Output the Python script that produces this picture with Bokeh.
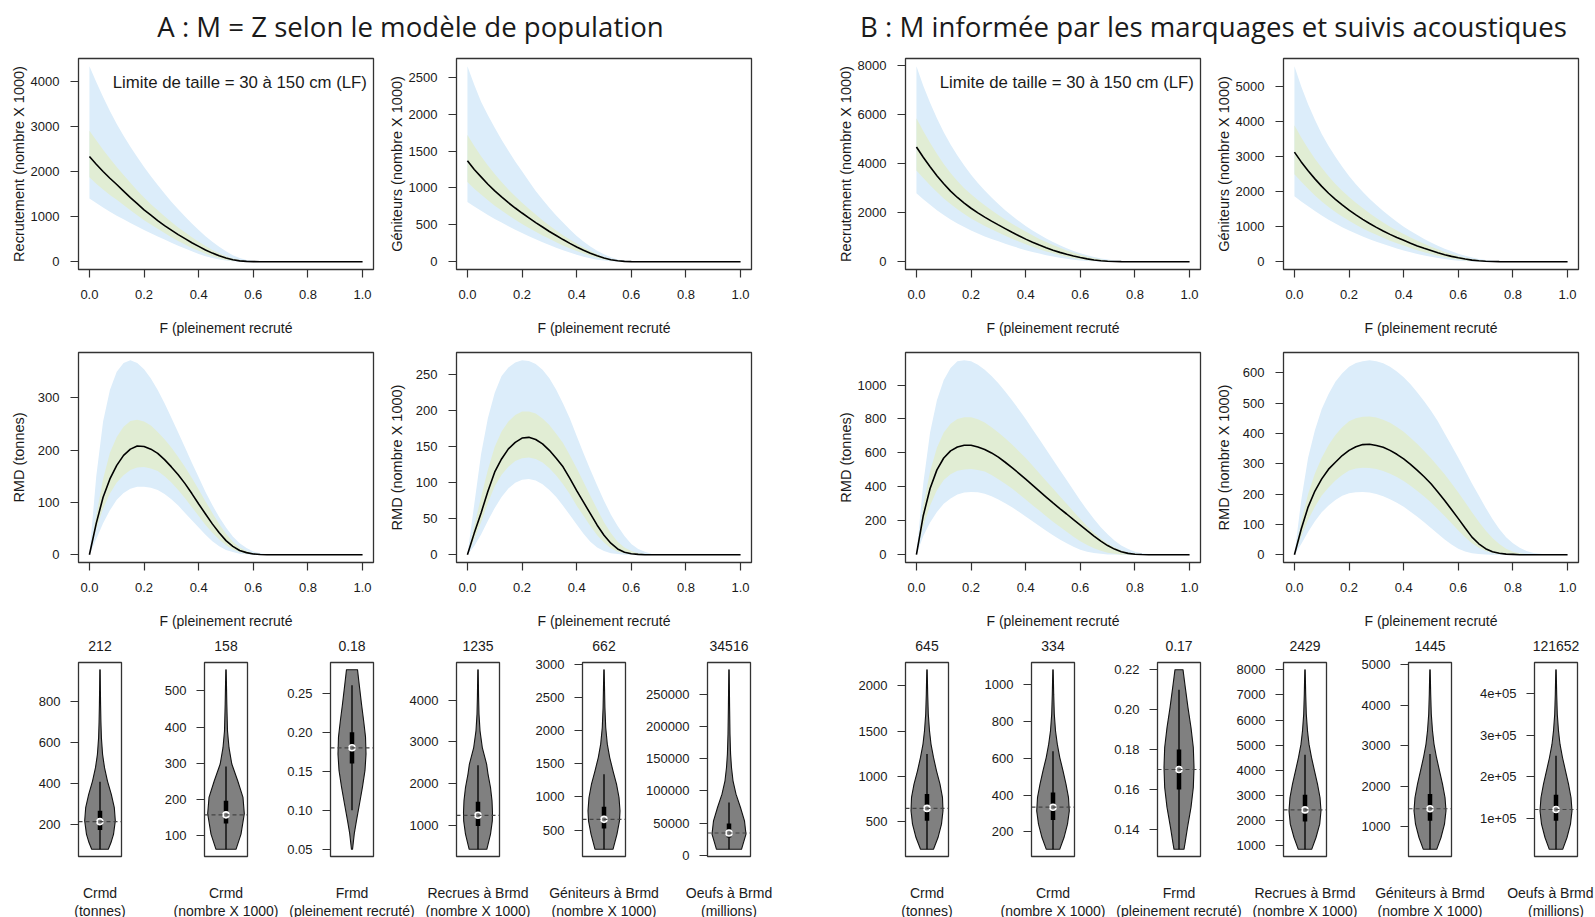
from bokeh.plotting import figure
from bokeh.layouts import row, column
from bokeh.models import Range1d, FixedTicker, NumeralTickFormatter, Span
from bokeh.core.properties import value
from bokeh.embed import file_html
from bokeh.resources import INLINE

# ---------------- data : curves (F grid every 0.025) ----------------
F = [0.0, 0.025, 0.05, 0.075, 0.1, 0.125, 0.15, 0.175, 0.2, 0.225,
     0.25, 0.275, 0.3, 0.325, 0.35, 0.375, 0.4, 0.425, 0.45, 0.475,
     0.5, 0.525, 0.55, 0.575, 0.6, 0.625, 0.65, 0.675, 0.7, 0.725,
     0.75, 0.775, 0.8, 0.825, 0.85, 0.875, 0.9, 0.925, 0.95, 0.975,
     1.0]
x_ticks = [0.0, 0.2, 0.4, 0.6, 0.8, 1.0]

A1_med = [2330, 2160, 2000, 1850, 1710, 1565, 1420, 1285, 1150, 1030,
          910, 800, 700, 600, 510, 420, 340, 260, 190, 130,
          80, 42, 18, 6, 1, 0, 0, 0, 0, 0,
          0, 0, 0, 0, 0, 0, 0, 0, 0, 0,
          0]
A1_g_hi = [2900, 2690, 2480, 2285, 2100, 1920, 1750, 1580, 1420, 1275,
           1140, 1005, 880, 760, 650, 540, 440, 345, 260, 185,
           120, 70, 35, 14, 5, 1, 0, 0, 0, 0,
           0, 0, 0, 0, 0, 0, 0, 0, 0, 0,
           0]
A1_g_lo = [1870, 1730, 1600, 1480, 1370, 1255, 1140, 1030, 920, 825,
           730, 635, 540, 460, 380, 305, 240, 175, 120, 75,
           40, 18, 8, 2, 0, 0, 0, 0, 0, 0,
           0, 0, 0, 0, 0, 0, 0, 0, 0, 0,
           0]
A1_b_hi = [4330, 3980, 3650, 3340, 3050, 2790, 2550, 2320, 2100, 1895,
           1700, 1510, 1330, 1160, 1000, 845, 700, 565, 440, 330,
           230, 145, 80, 38, 15, 5, 1, 0, 0, 0,
           0, 0, 0, 0, 0, 0, 0, 0, 0, 0,
           0]
A1_b_lo = [1400, 1300, 1200, 1105, 1020, 940, 860, 780, 700, 630,
           560, 490, 420, 355, 290, 230, 170, 122, 80, 48,
           25, 10, 3, 1, 0, 0, 0, 0, 0, 0,
           0, 0, 0, 0, 0, 0, 0, 0, 0, 0,
           0]

A2_med = [1369, 1250, 1150, 1050, 960, 878, 800, 728, 660, 595,
          530, 470, 410, 355, 300, 248, 200, 155, 115, 80,
          50, 27, 12, 4, 1, 0, 0, 0, 0, 0,
          0, 0, 0, 0, 0, 0, 0, 0, 0, 0,
          0]
A2_g_hi = [1720, 1570, 1430, 1305, 1190, 1082, 980, 888, 800, 718,
           640, 563, 490, 423, 360, 300, 245, 193, 145, 102,
           65, 37, 18, 7, 2, 0, 0, 0, 0, 0,
           0, 0, 0, 0, 0, 0, 0, 0, 0, 0,
           0]
A2_g_lo = [1080, 990, 910, 832, 760, 693, 630, 568, 510, 456,
           405, 356, 310, 264, 220, 180, 145, 110, 80, 53,
           30, 15, 5, 1, 0, 0, 0, 0, 0, 0,
           0, 0, 0, 0, 0, 0, 0, 0, 0, 0,
           0]
A2_b_hi = [2650, 2400, 2170, 1985, 1815, 1655, 1505, 1360, 1225, 1090,
           960, 842, 730, 627, 530, 437, 350, 273, 205, 147,
           100, 60, 30, 13, 5, 1, 0, 0, 0, 0,
           0, 0, 0, 0, 0, 0, 0, 0, 0, 0,
           0]
A2_b_lo = [810, 750, 690, 633, 580, 530, 480, 433, 390, 346,
           305, 264, 225, 190, 155, 123, 95, 68, 45, 27,
           15, 6, 2, 0, 0, 0, 0, 0, 0, 0,
           0, 0, 0, 0, 0, 0, 0, 0, 0, 0,
           0]

A3_med = [0, 60, 110, 145, 171, 190, 202, 208, 207, 202,
          194, 182, 168, 153, 136, 117, 97, 78, 59, 42,
          27, 16, 8, 4, 1.5, 0.5, 0, 0, 0, 0,
          0, 0, 0, 0, 0, 0, 0, 0, 0, 0,
          0]
A3_g_hi = [0, 75, 145, 195, 225, 245, 256, 258, 255, 247,
           235, 221, 205, 187, 168, 147, 125, 102, 80, 59,
           40, 25, 14, 7, 3, 1, 0, 0, 0, 0,
           0, 0, 0, 0, 0, 0, 0, 0, 0, 0,
           0]
A3_g_lo = [0, 50, 88, 117, 138, 152, 162, 167, 168, 165,
           160, 150, 138, 124, 108, 91, 74, 57, 42, 29,
           18, 10, 5, 2, 1, 0, 0, 0, 0, 0,
           0, 0, 0, 0, 0, 0, 0, 0, 0, 0,
           0]
A3_b_hi = [0, 150, 255, 315, 350, 367, 372, 367, 355, 337,
           315, 290, 262, 234, 205, 176, 148, 120, 95, 72,
           52, 35, 22, 13, 6, 3, 1, 0, 0, 0,
           0, 0, 0, 0, 0, 0, 0, 0, 0, 0,
           0]
A3_b_lo = [0, 30, 60, 85, 105, 118, 126, 130, 130, 128,
           124, 116, 106, 94, 80, 66, 52, 38, 26, 16,
           9, 5, 2, 1, 0, 0, 0, 0, 0, 0,
           0, 0, 0, 0, 0, 0, 0, 0, 0, 0,
           0]

A4_med = [0, 30, 58, 88, 115, 133, 147, 156, 162, 163,
          160, 154, 145, 134, 122, 106, 89, 73, 57, 41,
          27, 16, 8, 3.5, 1.4, 0.5, 0, 0, 0, 0,
          0, 0, 0, 0, 0, 0, 0, 0, 0, 0,
          0]
A4_g_hi = [0, 40, 80, 118, 150, 171, 185, 194, 199, 199,
           196, 189, 180, 168, 155, 138, 120, 101, 82, 63,
           45, 30, 18, 10, 5, 2, 1, 0, 0, 0,
           0, 0, 0, 0, 0, 0, 0, 0, 0, 0,
           0]
A4_g_lo = [0, 22, 45, 72, 95, 111, 122, 130, 134, 135,
           133, 128, 120, 110, 98, 84, 68, 54, 40, 27,
           17, 9, 4, 2, 1, 0, 0, 0, 0, 0,
           0, 0, 0, 0, 0, 0, 0, 0, 0, 0,
           0]
A4_b_hi = [0, 70, 140, 190, 225, 248, 260, 267, 270, 269,
           265, 257, 245, 229, 210, 189, 165, 141, 118, 96,
           75, 56, 40, 26, 15, 8, 4, 1, 0, 0,
           0, 0, 0, 0, 0, 0, 0, 0, 0, 0,
           0]
A4_b_lo = [0, 12, 28, 47, 65, 80, 92, 100, 104, 105,
           103, 98, 90, 80, 68, 55, 42, 29, 18, 10,
           5, 2, 1, 0, 0, 0, 0, 0, 0, 0,
           0, 0, 0, 0, 0, 0, 0, 0, 0, 0,
           0]

B1_med = [4680, 4260, 3870, 3510, 3180, 2880, 2620, 2390, 2180, 1990,
          1820, 1655, 1500, 1350, 1200, 1058, 920, 795, 680, 572,
          470, 380, 300, 230, 170, 115, 70, 38, 15, 6,
          2, 0, 0, 0, 0, 0, 0, 0, 0, 0,
          0]
B1_g_hi = [5850, 5330, 4850, 4400, 3990, 3620, 3290, 3000, 2750, 2520,
           2300, 2095, 1900, 1720, 1550, 1385, 1230, 1078, 930, 800,
           680, 565, 460, 365, 280, 205, 140, 90, 50, 25,
           12, 5, 2, 0, 0, 0, 0, 0, 0, 0,
           0]
B1_g_lo = [3720, 3410, 3120, 2840, 2580, 2350, 2140, 1945, 1760, 1605,
           1460, 1320, 1190, 1060, 940, 822, 710, 606, 510, 420,
           340, 265, 200, 145, 100, 62, 35, 18, 8, 3,
           0, 0, 0, 0, 0, 0, 0, 0, 0, 0,
           0]
B1_b_hi = [7970, 7180, 6480, 5850, 5280, 4780, 4330, 3920, 3550, 3210,
           2900, 2615, 2350, 2100, 1870, 1655, 1460, 1275, 1105, 950,
           805, 670, 545, 435, 340, 260, 190, 132, 85, 52,
           30, 16, 8, 3, 1, 0, 0, 0, 0, 0,
           0]
B1_b_lo = [2790, 2545, 2320, 2100, 1900, 1720, 1560, 1410, 1270, 1145,
           1030, 925, 830, 735, 640, 553, 470, 397, 330, 267,
           210, 160, 115, 80, 50, 28, 15, 6, 2, 0,
           0, 0, 0, 0, 0, 0, 0, 0, 0, 0,
           0]

B2_med = [3130, 2850, 2600, 2365, 2150, 1955, 1780, 1620, 1470, 1335,
          1210, 1090, 980, 878, 780, 692, 610, 528, 450, 383,
          320, 258, 200, 152, 110, 75, 45, 25, 12, 5,
          1, 0, 0, 0, 0, 0, 0, 0, 0, 0,
          0]
B2_g_hi = [3900, 3550, 3230, 2940, 2680, 2440, 2220, 2025, 1850, 1685,
           1530, 1385, 1250, 1122, 1000, 890, 790, 692, 600, 512,
           430, 352, 280, 217, 160, 113, 75, 46, 25, 12,
           5, 1, 0, 0, 0, 0, 0, 0, 0, 0,
           0]
B2_g_lo = [2500, 2280, 2080, 1892, 1720, 1562, 1420, 1290, 1170, 1055,
           950, 857, 770, 683, 600, 527, 460, 393, 330, 273,
           220, 172, 130, 93, 60, 36, 20, 10, 4, 1,
           0, 0, 0, 0, 0, 0, 0, 0, 0, 0,
           0]
B2_b_hi = [5580, 5000, 4500, 4055, 3650, 3305, 3000, 2715, 2450, 2215,
           2000, 1800, 1620, 1450, 1290, 1140, 1000, 875, 760, 650,
           550, 455, 370, 295, 230, 170, 120, 80, 50, 28,
           15, 7, 3, 1, 0, 0, 0, 0, 0, 0,
           0]
B2_b_lo = [1870, 1720, 1580, 1445, 1320, 1200, 1090, 987, 890, 803,
           720, 643, 570, 503, 440, 378, 320, 268, 220, 177,
           140, 105, 75, 50, 30, 17, 8, 3, 1, 0,
           0, 0, 0, 0, 0, 0, 0, 0, 0, 0,
           0]

B3_med = [0, 230, 390, 500, 570, 612, 635, 645, 645, 635,
          620, 600, 575, 545, 513, 480, 445, 410, 375, 340,
          305, 272, 240, 207, 175, 142, 110, 80, 54, 33,
          18, 8, 3, 1, 0, 0, 0, 0, 0, 0,
          0]
B3_g_hi = [0, 290, 490, 630, 720, 772, 800, 810, 810, 798,
           780, 752, 720, 686, 650, 610, 570, 526, 480, 435,
           390, 345, 300, 255, 210, 168, 130, 95, 65, 42,
           25, 13, 7, 3, 1, 0, 0, 0, 0, 0,
           0]
B3_g_lo = [0, 170, 290, 380, 440, 475, 495, 503, 505, 500,
           490, 470, 445, 418, 390, 358, 325, 292, 260, 227,
           195, 165, 135, 106, 80, 57, 38, 23, 12, 6,
           2, 1, 0, 0, 0, 0, 0, 0, 0, 0,
           0]
B3_b_hi = [0, 420, 720, 910, 1030, 1100, 1140, 1146, 1140, 1120,
           1090, 1053, 1010, 962, 910, 856, 800, 740, 680, 620,
           560, 500, 440, 380, 320, 263, 210, 162, 120, 84,
           55, 33, 18, 9, 4, 1, 0, 0, 0, 0,
           0]
B3_b_lo = [0, 110, 190, 252, 300, 332, 355, 366, 370, 368,
           360, 345, 325, 303, 280, 253, 225, 197, 170, 142,
           115, 90, 68, 47, 30, 18, 10, 5, 2, 1,
           0, 0, 0, 0, 0, 0, 0, 0, 0, 0,
           0]

B4_med = [0, 85, 157, 210, 250, 282, 305, 327, 344, 356,
          363, 364, 360, 354, 344, 331, 316, 298, 278, 257,
          234, 207, 179, 149, 119, 88, 58, 36, 20, 10,
          5, 2, 1, 0, 0, 0, 0, 0, 0, 0,
          0]
B4_g_hi = [0, 110, 200, 268, 320, 362, 395, 420, 440, 450,
           455, 456, 452, 445, 435, 421, 405, 386, 365, 342,
           318, 292, 265, 236, 205, 173, 140, 109, 80, 55,
           35, 20, 10, 5, 2, 1, 0, 0, 0, 0,
           0]
B4_g_lo = [0, 60, 115, 158, 195, 222, 245, 263, 278, 284,
           287, 286, 283, 276, 267, 256, 243, 227, 210, 192,
           172, 150, 128, 104, 80, 58, 38, 23, 12, 6,
           2, 1, 0, 0, 0, 0, 0, 0, 0, 0,
           0]
B4_b_hi = [0, 180, 320, 410, 480, 530, 570, 598, 620, 632,
           638, 641, 638, 631, 620, 604, 585, 562, 535, 506,
           475, 440, 400, 360, 320, 278, 235, 195, 155, 118,
           85, 58, 38, 23, 12, 6, 3, 1, 0, 0,
           0]
B4_b_lo = [0, 35, 75, 110, 140, 162, 180, 194, 203, 206,
           207, 205, 200, 193, 183, 171, 158, 142, 125, 107,
           88, 69, 50, 34, 20, 11, 5, 2, 1, 0,
           0, 0, 0, 0, 0, 0, 0, 0, 0, 0,
           0]

A1_yticks = [0, 1000, 2000, 3000, 4000]
A2_yticks = [0, 500, 1000, 1500, 2000, 2500]
A3_yticks = [0, 100, 200, 300]
A4_yticks = [0, 50, 100, 150, 200, 250]
B1_yticks = [0, 2000, 4000, 6000, 8000]
B2_yticks = [0, 1000, 2000, 3000, 4000, 5000]
B3_yticks = [0, 200, 400, 600, 800, 1000]
B4_yticks = [0, 100, 200, 300, 400, 500, 600]

ylab_recr = "Recrutement (nombre X 1000)"
ylab_geni = "Géniteurs (nombre X 1000)"
ylab_rmd_t = "RMD (tonnes)"
ylab_rmd_n = "RMD (nombre X 1000)"
xlab = "F (pleinement recruté"
legend_text = "Limite de taille = 30 à 150 cm (LF)"
title_A = "A : M = Z selon le modèle de population"
title_B = "B : M informée par les marquages et suivis acoustiques"

# ---------------- data : violins ----------------
# levels (value axis) and half-widths (in x units) of each violin outline
vA_levels = [
    [77, 110, 150, 216, 280, 345, 410, 475, 540, 620, 700, 780, 860, 953],
    [63, 105, 161, 206, 252, 298, 343, 389, 463, 558],
    [0.05, 0.07, 0.087, 0.108, 0.13, 0.151, 0.172, 0.194, 0.215, 0.236, 0.258, 0.28],
    [419, 784, 1103, 1302, 1583, 1902, 2224, 2464, 2862, 3263, 3664, 4063, 4730],
    [211, 440, 640, 790, 991, 1193, 1393, 1593, 1795, 2045, 2346, 2648, 2916],
    [9044, 32750, 53500, 74200, 95100, 115900, 136600, 157500, 188700, 230200, 289140],
]
vA_width = [
    [0.193, 0.256, 0.314, 0.356, 0.333, 0.263, 0.174, 0.105, 0.06, 0.033, 0.021, 0.014, 0.009, 0.005],
    [0.233, 0.349, 0.426, 0.395, 0.272, 0.135, 0.07, 0.035, 0.019, 0.005],
    [0.012, 0.053, 0.105, 0.174, 0.244, 0.302, 0.326, 0.314, 0.27, 0.221, 0.174, 0.128],
    [0.205, 0.291, 0.333, 0.337, 0.326, 0.291, 0.233, 0.2, 0.1, 0.047, 0.023, 0.014, 0.005],
    [0.209, 0.302, 0.36, 0.372, 0.349, 0.291, 0.209, 0.133, 0.077, 0.04, 0.021, 0.012, 0.005],
    [0.291, 0.395, 0.36, 0.267, 0.163, 0.093, 0.058, 0.037, 0.023, 0.014, 0.005],
]
# q1, median, q3, lower whisker, upper whisker
vA_stats = [
    [171, 212, 265, 77, 406],
    [134, 158, 197, 63, 291],
    [0.16, 0.18, 0.20, 0.10, 0.26],
    [976, 1235, 1559, 419, 2434],
    [524, 662, 851, 211, 1341],
    [27440, 34516, 49280, 9044, 82040],
]
vA_values = ["212", "158", "0.18", "1235", "662", "34516"]
vA_yticks = [
    [200, 400, 600, 800],
    [100, 200, 300, 400, 500],
    [0.05, 0.10, 0.15, 0.20, 0.25],
    [1000, 2000, 3000, 4000],
    [500, 1000, 1500, 2000, 2500, 3000],
    [0, 50000, 100000, 150000, 200000, 250000],
]

vB_levels = [
    [193, 323, 471, 619, 766, 914, 1061, 1208, 1356, 1503, 1687, 1908, 2178],
    [105, 169, 242, 314, 387, 460, 532, 604, 677, 750, 841, 949, 1082],
    [0.13, 0.134, 0.141, 0.151, 0.161, 0.171, 0.181, 0.191, 0.201, 0.211, 0.22],
    [861, 1330, 1862, 2392, 2922, 3452, 3983, 4513, 5043, 5574, 6237, 7032, 8004],
    [444, 736, 1067, 1395, 1723, 2054, 2383, 2711, 3042, 3370, 3783, 4277, 4879],
    [26080, 54400, 86560, 118500, 150400, 182400, 214400, 246400, 278300, 310300, 350300, 398300, 457120],
]
vB_width = [
    [0.151, 0.256, 0.337, 0.372, 0.36, 0.302, 0.221, 0.151, 0.093, 0.058, 0.03, 0.016, 0.005],
    [0.156, 0.256, 0.337, 0.379, 0.36, 0.302, 0.233, 0.158, 0.1, 0.058, 0.03, 0.016, 0.005],
    [0.116, 0.147, 0.198, 0.279, 0.333, 0.349, 0.333, 0.279, 0.209, 0.147, 0.093],
    [0.156, 0.256, 0.342, 0.372, 0.349, 0.291, 0.221, 0.151, 0.093, 0.058, 0.03, 0.016, 0.005],
    [0.156, 0.256, 0.337, 0.372, 0.349, 0.291, 0.221, 0.151, 0.093, 0.058, 0.03, 0.016, 0.005],
    [0.156, 0.256, 0.337, 0.372, 0.349, 0.291, 0.221, 0.151, 0.093, 0.058, 0.03, 0.016, 0.005],
]
vB_stats = [
    [508, 645, 803, 193, 1245],
    [264, 334, 414, 105, 639],
    [0.16, 0.17, 0.18, 0.13, 0.21],
    [1966, 2429, 3028, 861, 4621],
    [1148, 1445, 1807, 444, 2796],
    [94480, 121652, 156900, 26080, 250500],
]
vB_values = ["645", "334", "0.17", "2429", "1445", "121652"]
vB_yticks = [
    [500, 1000, 1500, 2000],
    [200, 400, 600, 800, 1000],
    [0.14, 0.16, 0.18, 0.20, 0.22],
    [1000, 2000, 3000, 4000, 5000, 6000, 7000, 8000],
    [1000, 2000, 3000, 4000, 5000],
    [100000, 200000, 300000, 400000],
]
vB6_tick_labels = {100000: "1e+05", 200000: "2e+05", 300000: "3e+05", 400000: "4e+05"}

v_names = ["Crmd", "Crmd", "Frmd", "Recrues à Brmd", "Géniteurs à Brmd", "Oeufs à Brmd"]
v_units = ["(tonnes)", "(nombre X 1000)", "(pleinement recruté)", "(nombre X 1000)",
           "(nombre X 1000)", "(millions)"]

# ---------------- style & layout constants ----------------
FONT = "Liberation Sans"
TFONT = "Open Sans"
TXT = "#1a1a1a"
BOX = "#333333"
BLUE = "#DCEDFA"
GREEN = "#E1EDD4"
VGREY = "#808080"

W = 1595
FW = 295                      # frame width of curve plots
CURVE_LEFT = [78, 456, 905, 1283]
CURVE_BOUND = [0, 385, 790, 1210, 1595]
VW = 43
VIO_LEFT = [78, 204, 330, 456, 582, 707, 905, 1031, 1157, 1283, 1408, 1534]
PANEL_SPLIT = 790

H_TITLE = 44
R1_TOP, R1_FH, R1_BOT = 14, 211, 71
R2_TOP, R2_FH, R2_BOT = 12, 210, 70
H_VAL = 20
V_TOP, V_FH, V_BOT = 10, 194, 6
H_LAB = 55


def style_axis(ax, ticks, fmt):
    ax.ticker = FixedTicker(ticks=ticks)
    ax.formatter = fmt
    ax.axis_line_color = None
    ax.major_tick_in = 0
    ax.major_tick_out = 8
    ax.major_tick_line_color = BOX
    ax.major_tick_line_width = 1.2
    ax.minor_tick_line_color = None
    ax.major_label_text_font = FONT
    ax.major_label_text_font_size = "13px"
    ax.major_label_text_color = TXT
    ax.major_label_standoff = 10
    ax.axis_label_text_font = FONT
    ax.axis_label_text_font_size = "14px"
    ax.axis_label_text_font_style = "normal"
    ax.axis_label_text_color = TXT


def base_fig(w, h, xr, yr, ml, mr, mt, mb, **kw):
    p = figure(width=w, height=h, x_range=xr, y_range=yr, output_backend="svg",
               toolbar_location=None, min_border_left=ml, min_border_right=mr,
               min_border_top=mt, min_border_bottom=mb, **kw)
    p.grid.visible = False
    p.outline_line_color = BOX
    p.outline_line_width = 1.3
    p.background_fill_color = "white"
    p.border_fill_color = "white"
    return p


def strip(w, h):
    p = figure(width=w, height=h, x_range=Range1d(0, w), y_range=Range1d(0, h),
               output_backend="svg", toolbar_location=None, min_border=0,
               x_axis_location=None, y_axis_location=None)
    p.grid.visible = False
    p.outline_line_color = None
    p.background_fill_color = "white"
    p.border_fill_color = "white"
    return p


def curve_plot(i, mt, fh, mb, b_lo, b_hi, g_lo, g_hi, med, yticks, ylabel, legend=None):
    ml = CURVE_LEFT[i] - CURVE_BOUND[i]
    mr = CURVE_BOUND[i + 1] - (CURVE_LEFT[i] + FW)
    top = max(b_hi)
    p = base_fig(ml + FW + mr, mt + fh + mb, Range1d(-0.04, 1.04),
                 Range1d(-0.04 * top, 1.04 * top), ml, mr, mt, mb)
    p.varea(x=F, y1=b_lo, y2=b_hi, fill_color=BLUE)
    p.varea(x=F, y1=g_lo, y2=g_hi, fill_color=GREEN)
    p.line(x=F, y=med, line_color="black", line_width=1.6)
    style_axis(p.xaxis[0], x_ticks, NumeralTickFormatter(format="0.0"))
    style_axis(p.yaxis[0], yticks, NumeralTickFormatter(format="0"))
    p.xaxis.axis_label = xlab
    p.xaxis.major_label_standoff = 12
    p.xaxis.axis_label_standoff = 18
    p.yaxis.major_label_standoff = 11
    p.yaxis.axis_label = ylabel
    p.yaxis.axis_label_text_font_size = "14.5px"
    maxlen = max(len(str(t)) for t in yticks)
    p.yaxis.axis_label_standoff = int(round(1 + (4 - maxlen) * 7.2))
    if legend:
        yr0, yr1 = -0.04 * top, 1.04 * top
        p.text(x=[1.016], y=[yr1 - 0.114 * (yr1 - yr0)], text=[legend],
               text_font=value(FONT), text_font_size=value("16.8px"),
               text_color=TXT, text_align="right", text_baseline="middle")
    return p


def violin_plot(k, levels, hw, stats, yticks, fmt, overrides=None):
    left = VIO_LEFT[k]
    if k == 0:
        b0 = 0
    elif k == 6:
        b0 = PANEL_SPLIT
    else:
        b0 = left - 70
    if k == len(VIO_LEFT) - 1:
        b1 = W
    elif k == 5:
        b1 = PANEL_SPLIT
    else:
        b1 = VIO_LEFT[k + 1] - 70
    ml = left - b0
    mr = b1 - (left + VW)
    lo, hi = levels[0], levels[-1]
    d = hi - lo
    p = base_fig(ml + VW + mr, V_TOP + V_FH + V_BOT, Range1d(0.5, 1.5),
                 Range1d(lo - 0.04 * d, hi + 0.04 * d), ml, mr, V_TOP, V_BOT,
                 x_axis_location=None)
    xs = [1 - w for w in hw] + [1 + w for w in reversed(hw)]
    ys = list(levels) + list(reversed(levels))
    p.patch(xs, ys, fill_color=VGREY, line_color="#111111", line_width=1.1)
    q1, md, q3, wlo, whi = stats
    p.segment(x0=[1], y0=[wlo], x1=[1], y1=[whi], line_color="black", line_width=1.3)
    p.segment(x0=[1], y0=[q1], x1=[1], y1=[q3], line_color="black", line_width=4.5)
    p.add_layout(Span(location=md, dimension="width", line_color="#444444",
                      line_dash="4 3", line_width=1.2))
    p.scatter(x=[1], y=[md], size=6, fill_color=VGREY, line_color="white", line_width=1.6)
    style_axis(p.yaxis[0], yticks, fmt)
    if overrides:
        p.yaxis.major_label_overrides = overrides
    return p


# ---------------- build ----------------
title_strip = strip(W, H_TITLE)
title_strip.text(x=[410, 1213], y=[19, 19], text=[title_A, title_B],
                 text_font=value(TFONT), text_font_size=value("27.6px"), text_color=TXT,
                 text_align="center", text_baseline="middle")

row1 = row(
    curve_plot(0, R1_TOP, R1_FH, R1_BOT, A1_b_lo, A1_b_hi, A1_g_lo, A1_g_hi, A1_med, A1_yticks, ylab_recr, legend_text),
    curve_plot(1, R1_TOP, R1_FH, R1_BOT, A2_b_lo, A2_b_hi, A2_g_lo, A2_g_hi, A2_med, A2_yticks, ylab_geni),
    curve_plot(2, R1_TOP, R1_FH, R1_BOT, B1_b_lo, B1_b_hi, B1_g_lo, B1_g_hi, B1_med, B1_yticks, ylab_recr, legend_text),
    curve_plot(3, R1_TOP, R1_FH, R1_BOT, B2_b_lo, B2_b_hi, B2_g_lo, B2_g_hi, B2_med, B2_yticks, ylab_geni),
)
row2 = row(
    curve_plot(0, R2_TOP, R2_FH, R2_BOT, A3_b_lo, A3_b_hi, A3_g_lo, A3_g_hi, A3_med, A3_yticks, ylab_rmd_t),
    curve_plot(1, R2_TOP, R2_FH, R2_BOT, A4_b_lo, A4_b_hi, A4_g_lo, A4_g_hi, A4_med, A4_yticks, ylab_rmd_n),
    curve_plot(2, R2_TOP, R2_FH, R2_BOT, B3_b_lo, B3_b_hi, B3_g_lo, B3_g_hi, B3_med, B3_yticks, ylab_rmd_t),
    curve_plot(3, R2_TOP, R2_FH, R2_BOT, B4_b_lo, B4_b_hi, B4_g_lo, B4_g_hi, B4_med, B4_yticks, ylab_rmd_n),
)

all_levels = vA_levels + vB_levels
all_width = vA_width + vB_width
all_stats = vA_stats + vB_stats
all_ticks = vA_yticks + vB_yticks
all_values = vA_values + vB_values
vios = []
for k in range(12):
    fmt = NumeralTickFormatter(format="0.00") if k in (2, 8) else NumeralTickFormatter(format="0")
    ov = vB6_tick_labels if k == 11 else None
    vios.append(violin_plot(k, all_levels[k], all_width[k], all_stats[k], all_ticks[k], fmt, ov))
row3 = row(*vios)

centers = [l + VW / 2 for l in VIO_LEFT]
val_strip = strip(W, H_VAL)
val_strip.text(x=centers, y=[7] * 12, text=all_values, text_font=value(FONT),
               text_font_size=value("14px"), text_color=TXT, text_align="center",
               text_baseline="middle")

lab = strip(W, H_LAB)
names = v_names + v_names
units = v_units + v_units
# every label centred under its violin, except the last name, kept inside the page
lab.text(x=centers[:11], y=[25] * 11, text=names[:11], text_font=value(FONT),
         text_font_size=value("14px"), text_color=TXT, text_align="center", text_baseline="middle")
lab.text(x=[W - 2], y=[25], text=names[11:], text_font=value(FONT),
         text_font_size=value("14px"), text_color=TXT, text_align="right", text_baseline="middle")
lab.text(x=centers, y=[7] * 12, text=units, text_font=value(FONT),
         text_font_size=value("14px"), text_color=TXT, text_align="center", text_baseline="middle")

layout = column(title_strip, row1, row2, val_strip, row3, lab)

open("out.html", "w").write(file_html(layout, INLINE))
